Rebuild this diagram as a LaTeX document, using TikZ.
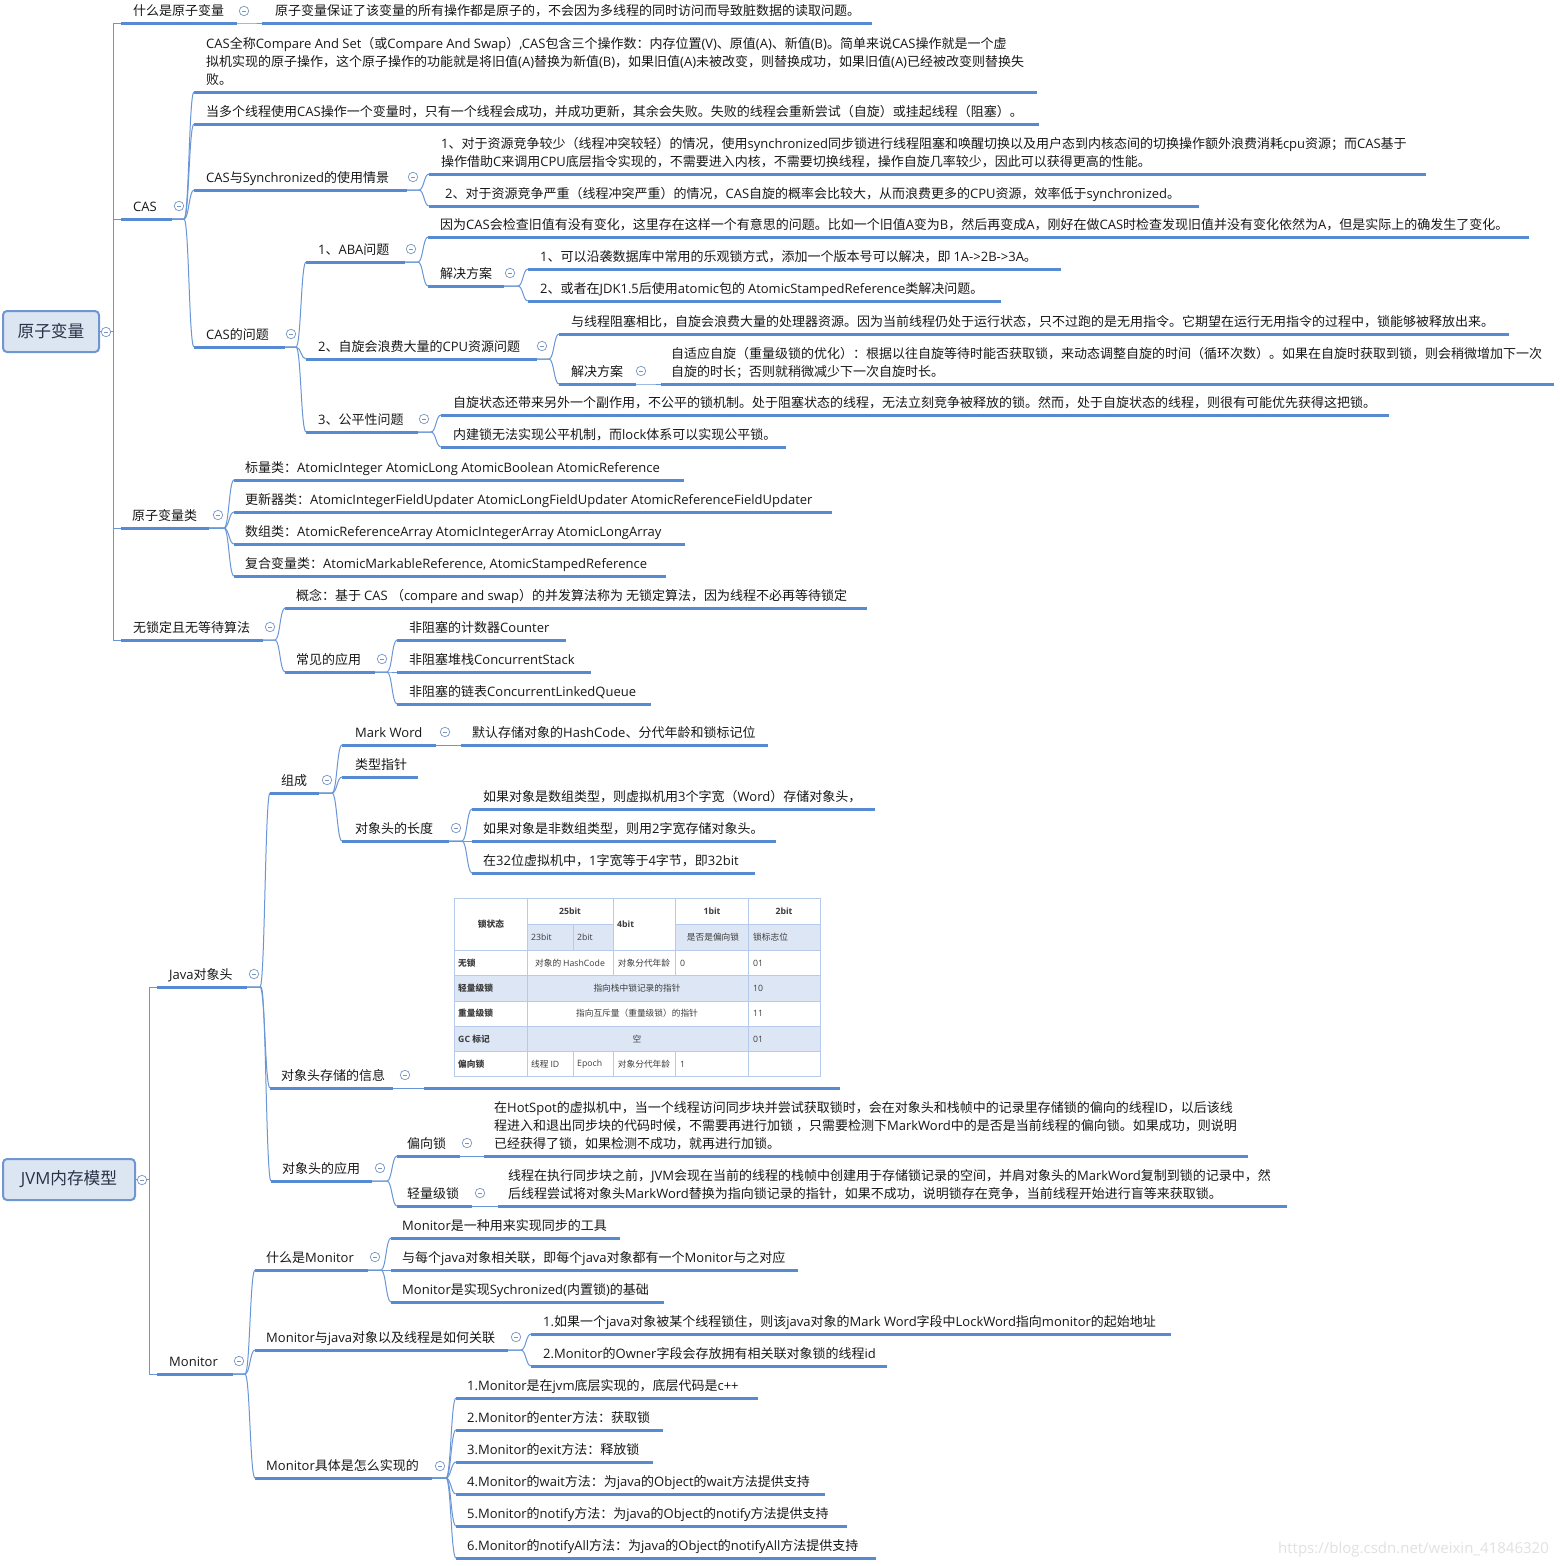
\documentclass[tikz,border=0pt]{standalone}
\usepackage{fontspec}
\setmainfont{Open Sans}
\newfontfamily\latinfont{Open Sans}
\newfontfamily\cjkfont{Noto Sans CJK SC}
\usetikzlibrary{calc}
% automatic switching between Latin and CJK fonts
\newcount\mycnt
\mycnt="3000 \loop\XeTeXcharclass\mycnt=20 \ifnum\mycnt<"303F \advance\mycnt by 1 \repeat
\mycnt="4E00 \loop\XeTeXcharclass\mycnt=20 \ifnum\mycnt<"9FFF \advance\mycnt by 1 \repeat
\mycnt="FF00 \loop\XeTeXcharclass\mycnt=20 \ifnum\mycnt<"FF60 \advance\mycnt by 1 \repeat
\mycnt=0 \loop\XeTeXinterchartoks\mycnt 20={\cjkfont}\XeTeXinterchartoks 20 \mycnt={\latinfont}\XeTeXinterchartoks 4095 \mycnt={\latinfont}\ifnum\mycnt<19 \advance\mycnt by 1 \repeat
\XeTeXinterchartoks 4095 20={\cjkfont}
\XeTeXinterchartokenstate=1

\definecolor{ulc}{RGB}{86,138,210}
\definecolor{cnc}{RGB}{104,150,214}
\definecolor{txc}{RGB}{24,24,24}
\definecolor{mnc}{RGB}{120,148,196}
\definecolor{rtf}{RGB}{220,230,242}
\definecolor{rtd}{RGB}{112,150,208}
\definecolor{rtt}{RGB}{40,50,70}
\definecolor{tbl}{RGB}{182,202,236}
\definecolor{tbf}{RGB}{221,230,244}
\definecolor{tbt}{RGB}{60,60,60}
\definecolor{wmc}{RGB}{225,225,225}

\newcommand\fs{\fontsize{13}{18}\selectfont}
\newcommand\mmlines[1]{\begin{tabular}[b]{@{}l@{}}#1\end{tabular}}
\newcommand\mmtopic[6][12]{%
  \draw[ul] (#3,#5) coordinate (#2-l) -- (#4,#5) coordinate (#2-r);
  \node[txt] (#2) at (#3+#1,#5-8) {#6};}
\newcommand\mmlink[2]{\draw[conn] (#1-r) -- ($(#2-l |- #1-r)+(-10,0)$) .. controls ($(#2-l |- #1-r)+(-5,0)$) and ($(#2-l)+(-5,0)$) .. (#2-l);}

\tikzset{
  ul/.style={draw=ulc, line width=3pt},
  conn/.style={draw=cnc, line width=1pt},
  txt/.style={anchor=base west, inner sep=0pt, font=\fs, text=txc},
  mn/.style={circle, draw=mnc, line width=0.7pt, fill=white, minimum size=9.5pt, inner sep=0pt,
    path picture={\draw[mnc, line width=0.8pt] ([xshift=2.3pt]path picture bounding box.west) -- ([xshift=-2.3pt]path picture bounding box.east);}},
  rootbox/.style={draw=rtd, fill=rtf, line width=2pt, rounded corners=4pt, inner sep=0pt, font=\fontsize{16.7}{20}\selectfont, text=rtt},
  tbtx/.style={inner sep=0pt, font=\fontsize{8.7}{10}\selectfont, text=tbt},
  tbbx/.style={inner sep=0pt, font=\fontsize{8.7}{10}\selectfont\bfseries, text=tbt},
  tline/.style={draw=tbl, line width=0.9pt},
}

\begin{document}
\begin{tikzpicture}[x=1pt, y=-1pt]
\useasboundingbox (0,0) rectangle (1559,1566);
\fill[white] (0,0) rectangle (1559,1566);

% ---------------- roots ----------------
\node[rootbox, minimum width=96pt, minimum height=41pt] (r1) at (51,331.5) {原子变量};
\node[rootbox, minimum width=132pt, minimum height=41pt] (r2) at (69,1179.5) {JVM内存模型};

% ---------------- tree 1 ----------------
\mmtopic{a1}{121}{237}{23}{什么是原子变量}
\mmtopic[13]{a1a}{262}{872}{23}{原子变量保证了该变量的所有操作都是原子的，不会因为多线程的同时访问而导致脏数据的读取问题。}
\mmtopic{cas}{121}{172}{219}{CAS}
\mmtopic{cas1}{194}{1037}{92}{\mmlines{CAS全称Compare And Set（或Compare And Swap）,CAS包含三个操作数：内存位置(V)、原值(A)、新值(B)。简单来说CAS操作就是一个虚\\拟机实现的原子操作，这个原子操作的功能就是将旧值(A)替换为新值(B)，如果旧值(A)未被改变，则替换成功，如果旧值(A)已经被改变则替换失\\败。}}
\mmtopic{cas2}{194}{1039}{124}{当多个线程使用CAS操作一个变量时，只有一个线程会成功，并成功更新，其余会失败。失败的线程会重新尝试（自旋）或挂起线程（阻塞）。}
\mmtopic{cas3}{194}{407}{190}{CAS与Synchronized的使用情景}
\mmtopic{cas3a}{429}{1426}{174}{\mmlines{1、对于资源竞争较少（线程冲突较轻）的情况，使用synchronized同步锁进行线程阻塞和唤醒切换以及用户态到内核态间的切换操作额外浪费消耗cpu资源；而CAS基于\\操作借助C来调用CPU底层指令实现的，不需要进入内核，不需要切换线程，操作自旋几率较少，因此可以获得更高的性能。}}
\mmtopic[16]{cas3b}{429}{1199}{206}{2、对于资源竞争严重（线程冲突严重）的情况，CAS自旋的概率会比较大，从而浪费更多的CPU资源，效率低于synchronized。}
\mmtopic{cas4}{194}{285}{347}{CAS的问题}
\mmtopic{aba}{306}{405}{262}{1、ABA问题}
\mmtopic{aba1}{428}{1529}{237}{因为CAS会检查旧值有没有变化，这里存在这样一个有意思的问题。比如一个旧值A变为B，然后再变成A，刚好在做CAS时检查发现旧值并没有变化依然为A，但是实际上的确发生了变化。}
\mmtopic{aba2}{428}{504}{286}{解决方案}
\mmtopic{aba2a}{528}{1061}{269}{1、可以沿袭数据库中常用的乐观锁方式，添加一个版本号可以解决，即 1A->2B->3A。}
\mmtopic{aba2b}{528}{1001}{301}{2、或者在JDK1.5后使用atomic包的 AtomicStampedReference类解决问题。}
\mmtopic{spin}{306}{537}{359}{2、自旋会浪费大量的CPU资源问题}
\mmtopic{spin1}{559}{1509}{334}{与线程阻塞相比，自旋会浪费大量的处理器资源。因为当前线程仍处于运行状态，只不过跑的是无用指令。它期望在运行无用指令的过程中，锁能够被释放出来。}
\mmtopic{spin2}{559}{636}{384}{解决方案}
\mmtopic[10]{spin2a}{661}{1554}{384}{\mmlines{自适应自旋（重量级锁的优化）：根据以往自旋等待时能否获取锁，来动态调整自旋的时间（循环次数）。如果在自旋时获取到锁，则会稍微增加下一次\\自旋的时长；否则就稍微减少下一次自旋时长。}}
\mmtopic{fair}{306}{418}{432}{3、公平性问题}
\mmtopic{fair1}{441}{1389}{415}{自旋状态还带来另外一个副作用，不公平的锁机制。处于阻塞状态的线程，无法立刻竞争被释放的锁。然而，处于自旋状态的线程，则很有可能优先获得这把锁。}
\mmtopic{fair2}{441}{786}{447}{内建锁无法实现公平机制，而lock体系可以实现公平锁。}
\mmtopic[11]{cls}{121}{209}{528}{原子变量类}
\mmtopic[11]{cls1}{234}{684}{480}{标量类：AtomicInteger AtomicLong AtomicBoolean AtomicReference}
\mmtopic[11]{cls2}{234}{832}{512}{更新器类：AtomicIntegerFieldUpdater AtomicLongFieldUpdater AtomicReferenceFieldUpdater}
\mmtopic[11]{cls3}{234}{685}{544}{数组类：AtomicReferenceArray AtomicIntegerArray AtomicLongArray}
\mmtopic[11]{cls4}{234}{666}{576}{复合变量类：AtomicMarkableReference, AtomicStampedReference}
\mmtopic{lf}{121}{263}{640}{无锁定且无等待算法}
\mmtopic[11]{lf1}{285}{867}{608}{概念：基于 CAS （compare and swap）的并发算法称为 无锁定算法，因为线程不必再等待锁定}
\mmtopic[11]{lf2}{285}{375}{672}{常见的应用}
\mmtopic{lf2a}{397}{566}{640}{非阻塞的计数器Counter}
\mmtopic{lf2b}{397}{591}{672}{非阻塞堆栈ConcurrentStack}
\mmtopic{lf2c}{397}{651}{704}{非阻塞的链表ConcurrentLinkedQueue}

% ---------------- tree 2 ----------------
\mmtopic{jh}{157}{247}{987}{Java对象头}
\mmtopic[11]{zc}{270}{319}{793}{组成}
\mmtopic[13]{mw}{342}{436}{745}{Mark Word}
\mmtopic[11]{mw1}{461}{768}{745}{默认存储对象的HashCode、分代年龄和锁标记位}
\mmtopic[13]{tp}{342}{418}{777}{类型指针}
\mmtopic[13]{len}{342}{449}{841}{对象头的长度}
\mmtopic[11]{len1}{472}{875}{809}{如果对象是数组类型，则虚拟机用3个字宽（Word）存储对象头，}
\mmtopic[11]{len2}{472}{776}{841}{如果对象是非数组类型，则用2字宽存储对象头。}
\mmtopic[11]{len3}{472}{755}{873}{在32位虚拟机中，1字宽等于4字节，即32bit}
\mmtopic[11]{info}{270}{393}{1088}{对象头存储的信息}
\mmtopic[11]{app}{271}{372}{1181}{对象头的应用}
\mmtopic[10]{bias}{397}{460}{1156}{偏向锁}
\mmtopic[10]{bias1}{484}{1248}{1156}{\mmlines{在HotSpot的虚拟机中，当一个线程访问同步块并尝试获取锁时，会在对象头和栈帧中的记录里存储锁的偏向的线程ID，以后该线\\程进入和退出同步块的代码时候，不需要再进行加锁 ，只需要检测下MarkWord中的是否是当前线程的偏向锁。如果成功，则说明\\已经获得了锁，如果检测不成功，就再进行加锁。}}
\mmtopic[10]{light}{397}{472}{1206}{轻量级锁}
\mmtopic[10]{light1}{498}{1287}{1206}{\mmlines{线程在执行同步块之前，JVM会现在当前的线程的栈帧中创建用于存储锁记录的空间，并肩对象头的MarkWord复制到锁的记录中，然\\后线程尝试将对象头MarkWord替换为指向锁记录的指针，如果不成功，说明锁存在竞争，当前线程开始进行盲等来获取锁。}}
\mmtopic{mon}{157}{233}{1374}{Monitor}
\mmtopic[11]{wm}{255}{368}{1270}{什么是Monitor}
\mmtopic[11]{wm1}{391}{620}{1238}{Monitor是一种用来实现同步的工具}
\mmtopic[11]{wm2}{391}{798}{1270}{与每个java对象相关联，即每个java对象都有一个Monitor与之对应}
\mmtopic[11]{wm3}{391}{664}{1302}{Monitor是实现Sychronized(内置锁)的基础}
\mmtopic[11]{ma}{255}{508}{1350}{Monitor与java对象以及线程是如何关联}
\mmtopic[12]{ma1}{531}{1171}{1334}{1.如果一个java对象被某个线程锁住，则该java对象的Mark Word字段中LockWord指向monitor的起始地址}
\mmtopic[12]{ma2}{531}{887}{1366}{2.Monitor的Owner字段会存放拥有相关联对象锁的线程id}
\mmtopic[11]{mi}{255}{432}{1478}{Monitor具体是怎么实现的}
\mmtopic[11]{mi1}{456}{758}{1398}{1.Monitor是在jvm底层实现的，底层代码是c++}
\mmtopic[11]{mi2}{456}{663}{1430}{2.Monitor的enter方法：获取锁}
\mmtopic[11]{mi3}{456}{653}{1462}{3.Monitor的exit方法：释放锁}
\mmtopic[11]{mi4}{456}{825}{1494}{4.Monitor的wait方法：为java的Object的wait方法提供支持}
\mmtopic[11]{mi5}{456}{847}{1526}{5.Monitor的notify方法：为java的Object的notify方法提供支持}
\mmtopic[11]{mi6}{456}{876}{1558}{6.Monitor的notifyAll方法：为java的Object的notifyAll方法提供支持}

% ---------------- table (object header) ----------------
\draw[ul] (424,1088) coordinate (tb-l) -- (840,1088) coordinate (tb-r);
\node[inner sep=0pt, minimum width=366pt, minimum height=178pt, anchor=north west] (tb) at (454,898) {};
\fill[tbf] (527,924) rectangle (613,950);
\fill[tbf] (675,924) rectangle (820,950);
\fill[tbf] (454,975) rectangle (820,1001);
\fill[tbf] (454,1026) rectangle (820,1051);
\draw[tline] (454,898) rectangle (820,1076);
\draw[tline] (527,898) -- (527,1076);
\draw[tline] (748,898) -- (748,1076);
\draw[tline] (573,924) -- (573,950) (573,1051) -- (573,1076);
\draw[tline] (613,898) -- (613,975) (613,1051) -- (613,1076);
\draw[tline] (675,898) -- (675,975) (675,1051) -- (675,1076);
\draw[tline] (527,924) -- (613,924) (675,924) -- (820,924);
\foreach \yy in {950,975,1001,1026,1051} {\draw[tline] (454,\yy) -- (820,\yy);}
\node[tbbx] (th1) at (491,924) {锁状态};
\node[tbbx] (th2) at (570,911) {25bit};
\node[tbbx, anchor=west] (th3) at (617,924) {4bit};
\node[tbbx] (th4) at (712,911) {1bit};
\node[tbbx] (th5) at (784,911) {2bit};
\node[tbtx, anchor=west] (th6) at (531,937) {23bit};
\node[tbtx, anchor=west] (th7) at (577,937) {2bit};
\node[tbtx] (th8) at (713,937) {是否是偏向锁};
\node[tbtx, anchor=west] (th9) at (753,937) {锁标志位};
\node[tbbx, anchor=west] (tr1) at (458,963) {无锁};
\node[tbtx] (tr1a) at (570,963) {对象的 HashCode};
\node[tbtx] (tr1b) at (644,963) {对象分代年龄};
\node[tbtx, anchor=west] (tr1c) at (680,963) {0};
\node[tbtx, anchor=west] (tr1d) at (753,963) {01};
\node[tbbx, anchor=west] (tr2) at (458,988) {轻量级锁};
\node[tbtx] (tr2a) at (637,988) {指向栈中锁记录的指针};
\node[tbtx, anchor=west] (tr2b) at (753,988) {10};
\node[tbbx, anchor=west] (tr3) at (458,1013) {重量级锁};
\node[tbtx] (tr3a) at (637,1013) {指向互斥量（重量级锁）的指针};
\node[tbtx, anchor=west] (tr3b) at (753,1013) {11};
\node[tbbx, anchor=west] (tr4) at (458,1039) {GC 标记};
\node[tbtx] (tr4a) at (637,1039) {空};
\node[tbtx, anchor=west] (tr4b) at (753,1039) {01};
\node[tbbx, anchor=west] (tr5) at (458,1064) {偏向锁};
\node[tbtx, anchor=west] (tr5a) at (531,1064) {线程 ID};
\node[tbtx, anchor=west] (tr5b) at (577,1064) {Epoch};
\node[tbtx] (tr5c) at (644,1064) {对象分代年龄};
\node[tbtx, anchor=west] (tr5d) at (680,1064) {1};

% ---------------- connectors ----------------
\coordinate (k1) at (113,331.5);
\draw[conn] (r1.east) -- (k1);
\foreach \c in {a1,cas,cls,lf} {\draw[conn] (k1) |- (\c-l);}
\coordinate (k2) at (149,1179.5);
\draw[conn] (r2.east) -- (k2);
\foreach \c in {jh,mon} {\draw[conn] (k2) |- (\c-l);}

\mmlink{a1}{a1a}
\foreach \c in {cas1,cas2,cas3,cas4} {\mmlink{cas}{\c}}
\foreach \c in {cas3a,cas3b} {\mmlink{cas3}{\c}}
\foreach \c in {aba,spin,fair} {\mmlink{cas4}{\c}}
\foreach \c in {aba1,aba2} {\mmlink{aba}{\c}}
\foreach \c in {aba2a,aba2b} {\mmlink{aba2}{\c}}
\foreach \c in {spin1,spin2} {\mmlink{spin}{\c}}
\mmlink{spin2}{spin2a}
\foreach \c in {fair1,fair2} {\mmlink{fair}{\c}}
\foreach \c in {cls1,cls2,cls3,cls4} {\mmlink{cls}{\c}}
\foreach \c in {lf1,lf2} {\mmlink{lf}{\c}}
\foreach \c in {lf2a,lf2b,lf2c} {\mmlink{lf2}{\c}}
\foreach \c in {zc,info,app} {\mmlink{jh}{\c}}
\foreach \c in {mw,tp,len} {\mmlink{zc}{\c}}
\mmlink{mw}{mw1}
\foreach \c in {len1,len2,len3} {\mmlink{len}{\c}}
\mmlink{info}{tb}
\foreach \c in {bias,light} {\mmlink{app}{\c}}
\mmlink{bias}{bias1}
\mmlink{light}{light1}
\foreach \c in {wm,ma,mi} {\mmlink{mon}{\c}}
\foreach \c in {wm1,wm2,wm3} {\mmlink{wm}{\c}}
\foreach \c in {ma1,ma2} {\mmlink{ma}{\c}}
\foreach \c in {mi1,mi2,mi3,mi4,mi5,mi6} {\mmlink{mi}{\c}}

% ---------------- collapse icons ----------------
\foreach \n/\x/\y in {m01/106/332, m02/142/1180, m03/244/11, m04/179/206, m05/413/177, m06/291/334,
  m07/411/249, m08/510/273, m09/542/346, m10/641/371, m11/424/419, m12/218/515, m13/270/627,
  m14/382/659, m15/254/974, m16/327/780, m17/445/732, m18/456/828, m19/405/1075, m20/380/1168,
  m21/467/1143, m22/480/1193, m23/239/1361, m24/375/1257, m25/516/1337, m26/440/1466}
  {\node[mn] (\n) at (\x,\y) {};}

% ---------------- watermark ----------------
\node[anchor=base west, inner sep=0pt, font=\fontsize{15}{17}\selectfont, text=wmc] (wmk) at (1278,1553) {https://blog.csdn.net/weixin\_41846320};
\end{tikzpicture}
\end{document}
